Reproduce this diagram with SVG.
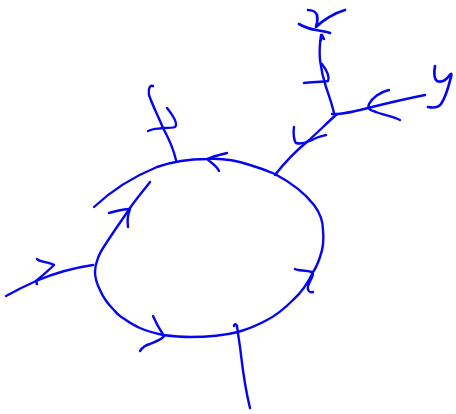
<svg xmlns="http://www.w3.org/2000/svg" width="456" height="414" viewBox="0 0 456 414">
<style>
path{fill:none;stroke:#0505f0;stroke-width:2.4;stroke-linecap:round;stroke-linejoin:round}
.h{stroke-width:2.7}
</style>
<rect width="456" height="414" fill="#fff"/>
<g id="connectors">
<path id="loop" d="M94 207C112 190 135 176 157 167C174 161 192 159 207 159C222 158 238 161 250 165C260 168 268 171 275 174C288 181 304 192 314 205C320 213 323 221 323 230C324 240 323 249 320 257C318 263 316 268 313 272C308 283 302 292 293 300C285 308 277 315 267 320C258 325 248 329 238 332C222 336 206 337 190 337C180 337 171 336 163 335C154 333 147 331 140 328C132 325 126 320 120 316C117 314 115 311 113 309C107 303 103 297 100 290C97 284 95 278 95 272C95 267 96 263 98 258C100 252 103 248 107 242C114 231 122 220 130 208C137 198 144 190 150 182"/>
<path id="edge-top" d="M176 160C173 147 168 137 163 128C158 116 152 104 149 95C148 88 150 85 153 86"/>
<path id="edge-top-tick" d="M148 131C153 128 160 129 163 128C168 128 173 128 175 127C178 124 175 118 167 108"/>
<path id="edge-left" d="M93 265C72 268 50 275 36 281C25 286 15 291 6 296"/>
<path id="edge-left-tick" d="M37 259C39 262 50 262 54 265C49 270 42 276 36 281L37 284"/>
<path id="edge-bottom" d="M250 408C246 392 243 372 241 355C240 345 238 335 237 326C236 323 234 324 234 326"/>
<path id="stem" d="M275 175C285 162 297 150 308 141C317 133 328 122 337 114"/>
<path id="stem-tick" d="M294 127C293 133 294 141 296 143C302 145 307 142 312 140C317 137 322 136 326 135"/>
<path id="branch-y" d="M332 114C340 115 352 112 368 108C388 103 410 98 425 95"/>
<path id="branch-y-tick" d="M389 90C380 92 372 98 369 104C367 109 370 110 376 112C384 115 394 117 400 120"/>
<path id="branch-x" d="M334 113C332 104 329 96 326 87C323 78 321 68 320 60C319 50 320 42 321 35"/>
<path id="branch-x-tick" d="M304 83C311 82 322 82 328 81C330 76 325 68 322 64"/>
<path id="branch-x-head" d="M321 40L322 35L324 39"/>
<path id="arrow-top" d="M227 153C218 155 212 157 207 159C211 163 216 165 219 171"/>
<path id="arrow-inner" d="M109 213C116 211 123 209 130 209C128 214 127 220 128 227"/>
<path id="arrow-right" d="M295 269C298 271 305 270 312 272C315 274 310 280 308 286C307 290 309 293 313 292"/>
<path id="arrow-bottom" d="M153 316C156 323 160 330 164 336C163 339 157 341 150 344C146 345 142 348 140 351"/>
</g>
<g id="label-y"><path class="h" d="M435 66C434 72 434 79 437 81C442 83 446 80 449 76C451 73 452 73 451 77C449 85 446 97 441 104C438 108 433 108 428 107"/></g>
<g id="label-x"><path class="h" d="M308 10C312 10 316 12 317 15C318 20 317 24 316 27C322 21 334 13 345 10M299 24C304 27 310 29 316 30C322 31 328 32 330 33"/></g>
</svg>
